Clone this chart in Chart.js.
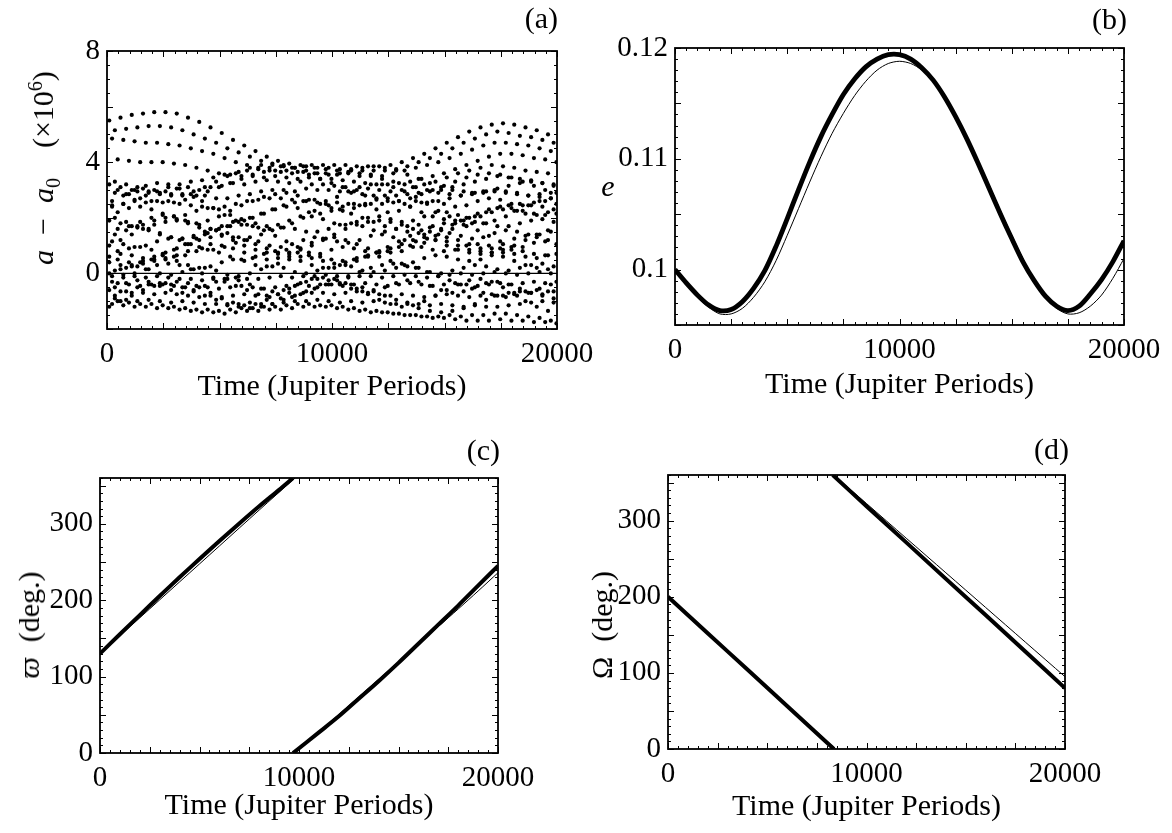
<!DOCTYPE html>
<html>
<head>
<meta charset="utf-8">
<script src="https://cdn.jsdelivr.net/npm/chart.js@4.4.0/dist/chart.umd.min.js"></script>
<style>
body { margin: 0; background: #fff; width: 1172px; height: 833px; position: relative; overflow: hidden; font-family: "Liberation Serif", serif; }
canvas { position: absolute; }
.lbl { position: absolute; font-size: 30px; line-height: 1; color: #000; white-space: nowrap; transform: translate(-100%, -50%); z-index: 2; }
.ytitle { position: absolute; font-size: 30px; line-height: 1; color: #000; white-space: nowrap; transform: translate(-50%, -50%) rotate(-90deg); z-index: 2; }
.ytitle sub, .ytitle sup { font-size: 20px; }
</style>
</head>
<body>
<canvas id="pa" width="620" height="416" style="left:0;top:0"></canvas>
<canvas id="pb" width="612" height="416" style="left:560px;top:0"></canvas>
<canvas id="pc" width="620" height="417" style="left:0;top:416px"></canvas>
<canvas id="pd" width="612" height="417" style="left:560px;top:416px"></canvas>

<div class="lbl" style="left:558px;top:18px">(a)</div>
<div class="lbl" style="left:1127px;top:19px">(b)</div>
<div class="lbl" style="left:500px;top:450px">(c)</div>
<div class="lbl" style="left:1069px;top:449px">(d)</div>

<div class="ytitle" style="left:44px;top:168px"><i>a</i>&ensp;&minus;&ensp;<i>a</i><sub>0</sub>&emsp;(&times;10<sup>6</sup>)</div>
<div class="lbl" style="left:608px;top:186px;transform:translate(-50%,-50%)"><i>e</i></div>
<div class="ytitle" style="left:29px;top:625px"><i>&#982;</i>&ensp;(deg.)</div>
<div class="ytitle" style="left:602px;top:625px">&Omega;&ensp;(deg.)</div>

<script>
// time samples for the dot bands of panel (a)
var timeA = [100,600,1100,1600,2100,2600,3100,3600,4100,4600,5100,5600,6100,6600,7100,7600,8100,8600,9100,9600,10100,10600,11100,11600,12100,12600,13100,13600,14100,14600,15100,15600,16100,16600,17100,17600,18100,18600,19100,19600];
var timeB = [225,725,1225,1725,2225,2725,3225,3725,4225,4725,5225,5725,6225,6725,7225,7725,8225,8725,9225,9725,10225,10725,11225,11725,12225,12725,13225,13725,14225,14725,15225,15725,16225,16725,17225,17725,18225,18725,19225,19725];
var timeC = [350,850,1350,1850,2350,2850,3350,3850,4350,4850,5350,5850,6350,6850,7350,7850,8350,8850,9350,9850,10350,10850,11350,11850,12350,12850,13350,13850,14350,14850,15350,15850,16350,16850,17350,17850,18350,18850,19350,19850];
var timeD = [475,975,1475,1975,2475,2975,3475,3975,4475,4975,5475,5975,6475,6975,7475,7975,8475,8975,9475,9975,10475,10975,11475,11975,12475,12975,13475,13975,14475,14975,15475,15975,16475,16975,17475,17975,18475,18975,19475,19975];

// a - a0 (x 10^6), read band by band
var band01 = [5.5,5.6,5.7,5.75,5.8, 5.8,5.75,5.6,5.45,5.25, 5.05,4.8,4.6,4.4,4.2, 4.05,3.95,3.9,3.9,3.9, 3.9,3.9,3.85,3.85,3.85, 3.9,4.0,4.15,4.3,4.5, 4.7,4.9,5.1,5.25,5.35, 5.4,5.35,5.25,5.15,5.0];
var band02 = [5.15,5.2,5.25,5.3,5.3, 5.25,5.15,5.0,4.85,4.7, 4.5,4.35,4.2,4.05,3.9, 3.85,3.8,3.85,3.8,3.8, 3.75,3.75,3.7,3.7,3.7, 3.75,3.85,4.0,4.15,4.3, 4.5,4.7,4.85,5.0,5.1, 5.05,4.95,4.9,4.8,4.7];
var band03 = [4.85,4.8,4.75,4.7,4.7, 4.65,4.6,4.5,4.4,4.3, 4.15,4.0,3.9,3.8,3.7, 3.65,3.6,3.65,3.6,3.6, 3.55,3.6,3.5,3.55,3.5, 3.6,3.7,3.8,3.9,4.0, 4.15,4.3,4.45,4.6,4.7, 4.7,4.65,4.6,4.5,4.4];
var band04 = [4.1,4.05,4.0,4.0,4.0, 3.95,3.9,3.8,3.7,3.6, 3.55,3.5,3.5,3.45,3.5, 3.45,3.4,3.45,3.4,3.4, 3.35,3.3,3.25,3.2,3.2, 3.25,3.3,3.4,3.5,3.6, 3.75,3.9,4.05,4.2,4.3, 4.3,4.25,4.15,4.1,4.0];
var band05 = [3.2,3.1,3.0,3.05,3.0, 2.95,3.05,3.1,3.0,3.1, 3.15,3.25,3.2,3.3,3.35, 3.3,3.25,3.3,3.2,3.2, 3.15,3.1,3.0,3.05,3.0, 2.95,3.0,3.1,3.2,3.3, 3.45,3.6,3.7,3.8,3.9, 3.85,3.8,3.7,3.65,3.6];
var band06 = [2.9,2.85,2.95,2.9,2.9, 2.85,2.8,2.75,2.8,2.7, 2.7,2.8,2.85,2.95,3.0, 3.0,2.95,3.05,3.0,3.0, 2.95,2.9,2.85,2.8,2.8, 2.8,2.85,2.9,2.95,3.0, 3.1,3.2,3.3,3.4,3.5, 3.45,3.4,3.35,3.25,3.2];
var band07 = [2.45,2.5,2.6,2.55,2.6, 2.6,2.5,2.45,2.4,2.35, 2.4,2.5,2.6,2.65,2.7, 2.7,2.65,2.6,2.65,2.6, 2.55,2.5,2.45,2.5,2.5, 2.55,2.5,2.6,2.55,2.6, 2.7,2.8,2.9,2.95,3.0, 2.95,2.9,2.8,2.75,2.7];
var band08 = [2.2,2.35,2.4,2.3,2.15,2.05, 2.1,2.25,2.35,2.3,2.1,1.95, 2.0,2.15,2.3,2.4,2.35,2.2, 2.15,2.25,2.4,2.5,2.45,2.3, 2.2,2.25,2.4,2.55,2.6,2.5, 2.4,2.45,2.6,2.7,2.65,2.5, 2.45,2.55,2.6,2.5];
var band09 = [1.9,1.8,1.7,1.75,1.9,2.0, 1.95,1.8,1.65,1.6,1.7,1.85, 1.9,1.8,1.7,1.75,1.9,2.05, 2.05,1.95,1.8,1.75,1.85,2.0, 2.05,1.95,1.85,1.9,2.05,2.2, 2.2,2.1,2.0,2.05,2.2,2.3, 2.25,2.15,2.1,2.2];
var band10 = [1.4,1.55,1.65,1.6,1.45,1.3, 1.25,1.35,1.5,1.55,1.45,1.3, 1.3,1.4,1.55,1.65,1.6,1.5, 1.5,1.6,1.75,1.8,1.7,1.55, 1.5,1.6,1.7,1.75,1.65,1.55, 1.6,1.75,1.85,1.8,1.7,1.7, 1.8,1.9,1.95,1.85];
var band11 = [1.15,1.05,0.95,1.0,1.15,1.25, 1.2,1.05,0.9,0.85,0.95,1.1, 1.2,1.15,1.0,0.95,1.05,1.2, 1.3,1.25,1.15,1.1,1.2,1.35, 1.4,1.3,1.2,1.15,1.25,1.4, 1.45,1.35,1.25,1.3,1.45,1.55, 1.5,1.4,1.4,1.5];
var band12 = [0.8,0.9,0.95,0.85,0.7,0.6, 0.65,0.8,0.85,0.75,0.6,0.5, 0.55,0.7,0.8,0.85,0.75,0.65, 0.7,0.85,0.95,0.9,0.8,0.75, 0.8,0.95,1.0,0.95,0.85,0.8, 0.85,1.0,1.05,1.0,0.9,0.85, 0.95,1.1,1.15,1.05];
var band13 = [0.4,0.3,0.25,0.35,0.5,0.55, 0.45,0.3,0.2,0.25,0.4,0.5, 0.45,0.3,0.25,0.35,0.5,0.6, 0.55,0.45,0.35,0.4,0.55,0.65, 0.6,0.45,0.35,0.4,0.55,0.65, 0.6,0.5,0.45,0.5,0.65,0.75, 0.7,0.6,0.55,0.65];
var band14 = [0.1,0.2,0.25,0.15,0.0,-0.05, 0.05,0.15,0.2,0.1,-0.05,-0.1, 0.0,0.15,0.25,0.2,0.05,0.0, 0.1,0.2,0.3,0.25,0.1,0.05, 0.1,0.2,0.25,0.2,0.05,0.0, 0.1,0.2,0.3,0.25,0.15,0.1, 0.2,0.3,0.35,0.25];
var band15 = [-0.1,-0.05,-0.1,-0.15,-0.1, -0.15,-0.2,-0.2,-0.25,-0.2, -0.2,-0.15,-0.2,-0.2,-0.15, -0.1,-0.15,-0.1,-0.1,-0.05, -0.1,-0.15,-0.1,-0.1,-0.15, -0.1,-0.05,-0.1,-0.15,-0.1, -0.05,0.0,-0.05,0.0,0.05, 0.0,-0.05,0.0,0.05,0.0];
var band16 = [-0.35,-0.4,-0.45,-0.4,-0.4, -0.45,-0.5,-0.45,-0.5,-0.55, -0.5,-0.45,-0.5,-0.55,-0.5, -0.45,-0.4,-0.45,-0.4,-0.4, -0.45,-0.4,-0.35,-0.4,-0.45, -0.4,-0.35,-0.4,-0.45,-0.4, -0.35,-0.4,-0.45,-0.4,-0.35, -0.4,-0.35,-0.3,-0.35,-0.3];
var band17 = [-0.6,-0.65,-0.7,-0.7,-0.75, -0.7,-0.75,-0.8,-0.85,-0.8, -0.85,-0.8,-0.75,-0.8,-0.8, -0.75,-0.7,-0.75,-0.7,-0.7, -0.75,-0.7,-0.65,-0.7,-0.75, -0.8,-0.75,-0.8,-0.85,-0.8, -0.75,-0.8,-0.85,-0.8,-0.75, -0.8,-0.7,-0.65,-0.6,-0.65];
var band18 = [-0.9,-0.95,-1.0,-0.95,-1.0, -1.05,-1.0,-1.05,-1.1,-1.1, -1.15,-1.1,-1.05,-1.1,-1.1, -1.05,-1.0,-1.0,-0.95,-1.0, -1.05,-1.0,-1.05,-1.0,-1.05, -1.1,-1.05,-1.1,-1.15,-1.1, -1.15,-1.2,-1.15,-1.2,-1.2, -1.15,-1.1,-1.05,-1.0,-1.05];
var band19 = [-1.1,-1.15,-1.2,-1.2,-1.25, -1.25,-1.3,-1.35,-1.4,-1.4, -1.45,-1.4,-1.35,-1.35,-1.3, -1.3,-1.25,-1.2,-1.2,-1.2, -1.25,-1.3,-1.35,-1.4,-1.4, -1.45,-1.5,-1.5,-1.55,-1.55, -1.5,-1.55,-1.5,-1.5,-1.45, -1.45,-1.5,-1.55,-1.6,-1.7];
var band20 = [-1.0,-1.05,-1.1,-1.1,-1.15, -1.2,-1.25,-1.3,-1.3,-1.35, -1.3,-1.25,-1.25,-1.2,-1.2, -1.15,-1.1,-1.1,-1.15,-1.15, -1.2,-1.25,-1.3,-1.35,-1.4, -1.45,-1.5,-1.55,-1.6,-1.6, -1.65,-1.7,-1.7,-1.7,-1.65, -1.7,-1.7,-1.75,-1.75,-1.8];
var band21 = [0.0,0.15,0.3,0.45,0.6, 0.75,0.9,1.05,1.2,1.3, 1.35,1.3,1.2,1.05,0.9, 0.75,0.6,0.45,0.3,0.2, 0.2,0.3,0.45,0.6,0.75, 0.9,1.05,1.2,1.3,1.35, 1.3,1.2,1.05,0.9,0.75, 0.6,0.45,0.3,0.2,0.15];
var band22 = [2.0,1.85,1.7,1.55,1.4, 1.3,1.25,1.3,1.4,1.55, 1.7,1.85,2.0,2.15,2.3, 2.45,2.55,2.6,2.55,2.45, 2.3,2.15,2.0,1.85,1.7, 1.6,1.5,1.45,1.5,1.6, 1.75,1.9,2.05,2.2,2.35, 2.45,2.5,2.45,2.4,2.3];
var band23 = [-0.3,-0.15,0.0,0.15,0.3, 0.35,0.3,0.15,0.0,-0.15, -0.3,-0.45,-0.6,-0.75,-0.85, -0.9,-0.85,-0.7,-0.55,-0.4, -0.25,-0.1,0.05,0.2,0.3, 0.35,0.3,0.2,0.05,-0.1, -0.25,-0.4,-0.55,-0.7,-0.8, -0.85,-0.8,-0.7,-0.55,-0.4];
var band24 = [3.0,2.85,2.7,2.6,2.55, 2.55,2.65,2.8,2.95,3.1, 3.25,3.4,3.55,3.65,3.7, 3.7,3.65,3.55,3.4,3.25, 3.1,2.95,2.8,2.7,2.6, 2.6,2.7,2.85,3.0,3.15, 3.3,3.45,3.55,3.6,3.55, 3.45,3.3,3.15,3.0,2.9];
var band25 = [1.0,1.2,1.4,1.6,1.75, 1.85,1.9,1.85,1.75,1.6, 1.4,1.2,1.0,0.85,0.75, 0.7,0.75,0.85,1.0,1.2, 1.4,1.6,1.75,1.85,1.9, 1.85,1.75,1.6,1.4,1.2, 1.0,0.85,0.75,0.7,0.75, 0.85,1.0,1.2,1.4,1.55];
var band26 = [-0.8,-0.65,-0.5,-0.4,-0.35, -0.4,-0.5,-0.65,-0.8,-0.95, -1.1,-1.2,-1.25,-1.2,-1.1, -0.95,-0.8,-0.65,-0.5,-0.4, -0.35,-0.4,-0.5,-0.65,-0.8, -0.95,-1.1,-1.25,-1.35,-1.4, -1.35,-1.25,-1.1,-0.95,-0.8, -0.7,-0.65,-0.7,-0.8,-0.9];
var band27 = [2.6,2.8,3.0,3.15,3.25, 3.2,3.05,2.85,2.6,2.35, 2.1,1.9,1.75,1.65,1.6, 1.65,1.8,2.0,2.25,2.5, 2.75,2.95,3.1,3.2,3.2, 3.1,2.95,2.75,2.5,2.25, 2.05,1.9,1.8,1.8,1.9, 2.05,2.25,2.45,2.6,2.7];
var band28 = [0.5,0.4,0.4,0.5,0.65, 0.85,1.05,1.25,1.45,1.6, 1.7,1.75,1.7,1.55,1.35, 1.15,0.95,0.75,0.6,0.5, 0.45,0.5,0.6,0.75,0.95, 1.15,1.35,1.55,1.7,1.8, 1.8,1.7,1.55,1.35,1.15, 0.95,0.8,0.7,0.65,0.7];
var band29 = [-1.2,-1.0,-0.8,-0.6,-0.45, -0.35,-0.3,-0.35,-0.5,-0.7, -0.9,-1.05,-1.15,-1.1,-0.95, -0.75,-0.55,-0.35,-0.2,-0.15, -0.2,-0.35,-0.55,-0.75,-0.95, -1.1,-1.2,-1.15,-1.0,-0.8, -0.6,-0.4,-0.25,-0.2,-0.3, -0.5,-0.75,-1.0,-1.2,-1.35];
var band30 = [3.3,3.2,3.1,2.95,2.85, 2.8,2.85,2.95,3.1,3.3, 3.5,3.65,3.8,3.9,3.95, 3.9,3.8,3.7,3.6,3.55, 3.6,3.7,3.8,3.85,3.8, 3.7,3.55,3.4,3.25,3.1, 3.0,2.95,2.9,2.95,3.05, 3.15,3.25,3.3,3.25,3.15];
var band31 = [2.4,2.5,2.65,2.8,2.95, 3.1,3.2,3.3,3.35,3.45, 3.55,3.6,3.7,3.75,3.8, 3.85,3.8,3.85,3.8,3.75, 3.7,3.65,3.6,3.5,3.4, 3.3,3.2,3.1,3.0,2.9, 2.85,2.8,2.85,2.9,2.95, 2.9,2.85,2.8,2.85,2.9];
var band32 = [1.6,1.7,1.85,2.0,2.1, 2.05,1.9,1.8,1.9,2.05, 2.25,2.45,2.6,2.75,2.85, 2.9,2.8,2.65,2.5,2.35, 2.25,2.35,2.5,2.65,2.7, 2.6,2.4,2.2,2.05,1.95, 1.9,2.0,2.15,2.3,2.4, 2.35,2.25,2.15,2.1,2.15];
var band33 = [0.6,0.7,0.65,0.55,0.45, 0.5,0.65,0.8,0.95,1.05, 1.0,0.9,0.75,0.6,0.5, 0.55,0.7,0.9,1.1,1.25, 1.3,1.2,1.05,0.9,0.8, 0.75,0.8,0.95,1.1,1.2, 1.15,1.0,0.85,0.8,0.9, 1.05,1.25,1.35,1.3,1.2];
var band34 = [-0.5,-0.35,-0.25,-0.3,-0.45, -0.6,-0.7,-0.6,-0.45,-0.3, -0.2,-0.25,-0.4,-0.55,-0.65, -0.6,-0.45,-0.3,-0.2,-0.25, -0.4,-0.55,-0.65,-0.6,-0.5, -0.35,-0.25,-0.3,-0.45,-0.6, -0.7,-0.65,-0.5,-0.35,-0.3, -0.4,-0.55,-0.7,-0.75,-0.65];
var zeroX = [0, 20000];
var zeroY = [0, 0];

// eccentricity, panel (b)
var eTime = [0,500,1000,1500,2000,2500,3000,3500,4000,4500,5000,5500,6000,6500,7000,7500,8000,8500,9000,9500,10000,10500,11000,11500,12000,12500,13000,13500,14000,14500,15000,15500,16000,16500,17000,17500,18000,18500,19000,19500,20000];
var eThick = [0.1000,0.0988,0.0977,0.0968,0.0963,0.0964,0.0971,0.0983,0.0999,0.1021,0.1046,0.1072,0.1097,0.1120,0.1140,0.1158,0.1172,0.1183,0.1190,0.1194,0.1194,0.1190,0.1182,0.1171,0.1156,0.1138,0.1118,0.1096,0.1073,0.1050,0.1028,0.1007,0.0990,0.0976,0.0967,0.0963,0.0967,0.0978,0.0991,0.1007,0.1026];
var eThin = [0.1000,0.0987,0.0975,0.0966,0.0960,0.0960,0.0965,0.0975,0.0989,0.1008,0.1031,0.1055,0.1079,0.1102,0.1123,0.1141,0.1157,0.1170,0.1180,0.1186,0.1188,0.1186,0.1180,0.1170,0.1156,0.1139,0.1119,0.1098,0.1076,0.1053,0.1031,0.1010,0.0991,0.0976,0.0965,0.0960,0.0961,0.0967,0.0977,0.0992,0.1010];

// longitude of perihelion, panel (c)
var wTime1 = [0,1000,2000,3000,4000,5000,6000,7000,8000,9000,9700];
var wThick1 = [130,155.5,180.5,205.5,230,254,277.5,300.5,323,344.5,360];
var wTimeThin1 = [0,2000,4000,6000,8000,9800];
var wThin1 = [130,177,224,271,318,360];
var wTime2 = [9700,11000,12000,13000,14000,15000,16000,17000,18000,19000,20000];
var wThick2 = [0,27,48,71,94,118,143,168,193,219,245];
var wTimeThin2 = [9800,11000,12000,13000,14000,15000,16000,17000,18000,19000,20000];
var wThin2 = [0,27.5,50.5,73.5,96.5,119.5,142.5,165.5,188.5,212,236];

// longitude of node, panel (d)
var oTime1 = [0,2000,4000,6000,8000,8360];
var oThick1 = [200,152,104.5,56.5,8.5,0];
var oTimeThin1 = [0,4000,8450];
var oThin1 = [200,105.5,0];
var oTime2 = [8300,10000,12000,14000,16000,18000,20000];
var oThick2 = [360,319,271.5,223.5,176,128,80];
var oTimeThin2 = [8350,10000,12000,14000,16000,18000,20000];
var oThin2 = [360,322.5,277,231.5,186,140.5,95];

// tick labels
var xTicks = [0, 10000, 20000];
var yTicksA = [0, 4, 8];
var yTicksB = [0.1, 0.11, 0.12];
var yTicksDeg = [0, 100, 200, 300];

function xy(xs, ys) {
    return xs.map(function (x, i) { return { x: x, y: ys[i] }; });
}

var tickFont = { family: 'Liberation Serif', size: 29 };
var titleFont = { family: 'Liberation Serif', size: 30 };

// frame box with inward tick marks on all four sides
var frameTicks = {
    id: 'frameTicks',
    afterDraw: function (chart, args, o) {
        var ctx = chart.ctx, a = chart.chartArea, sx = chart.scales.x, sy = chart.scales.y;
        ctx.save();
        ctx.strokeStyle = '#000';
        ctx.lineWidth = 1;
        ctx.beginPath();
        var n = Math.round((sx.max - sx.min) / o.xMinor);
        for (var i = 0; i <= n; i++) {
            var v = sx.min + i * o.xMinor;
            var len = Math.abs(v / o.xMajor - Math.round(v / o.xMajor)) < 1e-6 ? 6 : 3;
            var px = Math.round(sx.getPixelForValue(v)) + 0.5;
            ctx.moveTo(px, a.bottom); ctx.lineTo(px, a.bottom - len);
            ctx.moveTo(px, a.top); ctx.lineTo(px, a.top + len);
        }
        n = Math.round((sy.max - sy.min) / o.yMinor);
        for (var j = 0; j <= n; j++) {
            var w = sy.min + j * o.yMinor;
            var len2 = Math.abs(w / o.yMajor - Math.round(w / o.yMajor)) < 1e-6 ? 6 : 3;
            var py = Math.round(sy.getPixelForValue(w)) + 0.5;
            ctx.moveTo(a.left, py); ctx.lineTo(a.left + len2, py);
            ctx.moveTo(a.right, py); ctx.lineTo(a.right - len2, py);
        }
        ctx.stroke();
        ctx.lineWidth = 1.8;
        ctx.strokeRect(a.left, a.top, a.right - a.left, a.bottom - a.top);
        ctx.restore();
    }
};

function makePanel(id, datasets, p) {
    return new Chart(document.getElementById(id), {
        type: 'scatter',
        data: { datasets: datasets },
        options: {
            responsive: false,
            animation: false,
            devicePixelRatio: 1,
            layout: { padding: { left: 0, top: p.padTop, right: p.padRight, bottom: 0 } },
            plugins: {
                legend: { display: false },
                tooltip: { enabled: false },
                frameTicks: p.marks
            },
            scales: {
                x: {
                    type: 'linear', min: 0, max: 20000,
                    grid: { display: false, drawTicks: false },
                    border: { display: false },
                    afterFit: function (s) { s.height = p.xHeight; },
                    afterBuildTicks: function (s) { s.ticks = xTicks.map(function (v) { return { value: v }; }); },
                    ticks: { color: '#000', font: tickFont, padding: 8, maxRotation: 0, autoSkip: false,
                             callback: function (v) { return String(v); } },
                    title: { display: true, text: 'Time (Jupiter Periods)', color: '#000', font: titleFont,
                             padding: { top: 0, bottom: p.titlePad } }
                },
                y: {
                    type: 'linear', min: p.yMin, max: p.yMax,
                    grid: { display: false, drawTicks: false },
                    border: { display: false },
                    afterFit: function (s) { s.width = p.yWidth; },
                    afterBuildTicks: function (s) { s.ticks = p.yTicks.map(function (v) { return { value: v }; }); },
                    ticks: { color: '#000', font: tickFont, padding: 7, autoSkip: false,
                             callback: function (v) { return String(v); } }
                }
            }
        },
        plugins: [frameTicks]
    });
}

function dots(times, ys) {
    return { data: xy(times, ys), showLine: false, pointRadius: 2.1, pointBackgroundColor: '#000',
             pointBorderColor: '#000', pointBorderWidth: 0 };
}

function curve(times, ys, width) {
    return { data: xy(times, ys), showLine: true, borderColor: '#000', borderWidth: width,
             pointRadius: 0, tension: 0.3, borderCapStyle: 'butt' };
}

var bands = [band01, band02, band03, band04, band05, band06, band07, band08, band09, band10,
             band11, band12, band13, band14, band15, band16, band17, band18, band19, band20,
             band21, band22, band23, band24, band25, band26, band27, band28, band29, band30,
             band31, band32, band33, band34];
var bandTimes = [timeA, timeC, timeB, timeD];
var dotSets = bands.map(function (b, i) { return dots(bandTimes[i % 4], b); });
dotSets.push(curve(zeroX, zeroY, 1.3));

makePanel('pa', dotSets, {
    padTop: 51, padRight: 63, xHeight: 87, yWidth: 107, titlePad: 11,
    yMin: -2, yMax: 8, yTicks: yTicksA,
    marks: { xMinor: 500, xMajor: 2500, yMinor: 0.5, yMajor: 2 }
});

makePanel('pb', [curve(eTime, eThick, 4.8), curve(eTime, eThin, 1)], {
    padTop: 48, padRight: 48, xHeight: 91, yWidth: 115, titlePad: 13,
    yMin: 0.095, yMax: 0.12, yTicks: yTicksB,
    marks: { xMinor: 500, xMajor: 2500, yMinor: 0.001, yMajor: 0.005 }
});

makePanel('pc', [curve(wTime1, wThick1, 4), curve(wTimeThin1, wThin1, 1),
                 curve(wTime2, wThick2, 4), curve(wTimeThin2, wThin2, 1)], {
    padTop: 62, padRight: 122, xHeight: 80, yWidth: 100, titlePad: 9,
    yMin: 0, yMax: 360, yTicks: yTicksDeg,
    marks: { xMinor: 500, xMajor: 2500, yMinor: 10, yMajor: 50 }
});

makePanel('pd', [curve(oTime1, oThick1, 4), curve(oTimeThin1, oThin1, 1),
                 curve(oTime2, oThick2, 4), curve(oTimeThin2, oThin2, 1)], {
    padTop: 59, padRight: 107, xHeight: 84, yWidth: 108, titlePad: 8,
    yMin: 0, yMax: 360, yTicks: yTicksDeg,
    marks: { xMinor: 500, xMajor: 2500, yMinor: 10, yMajor: 50 }
});
</script>
</body>
</html>
